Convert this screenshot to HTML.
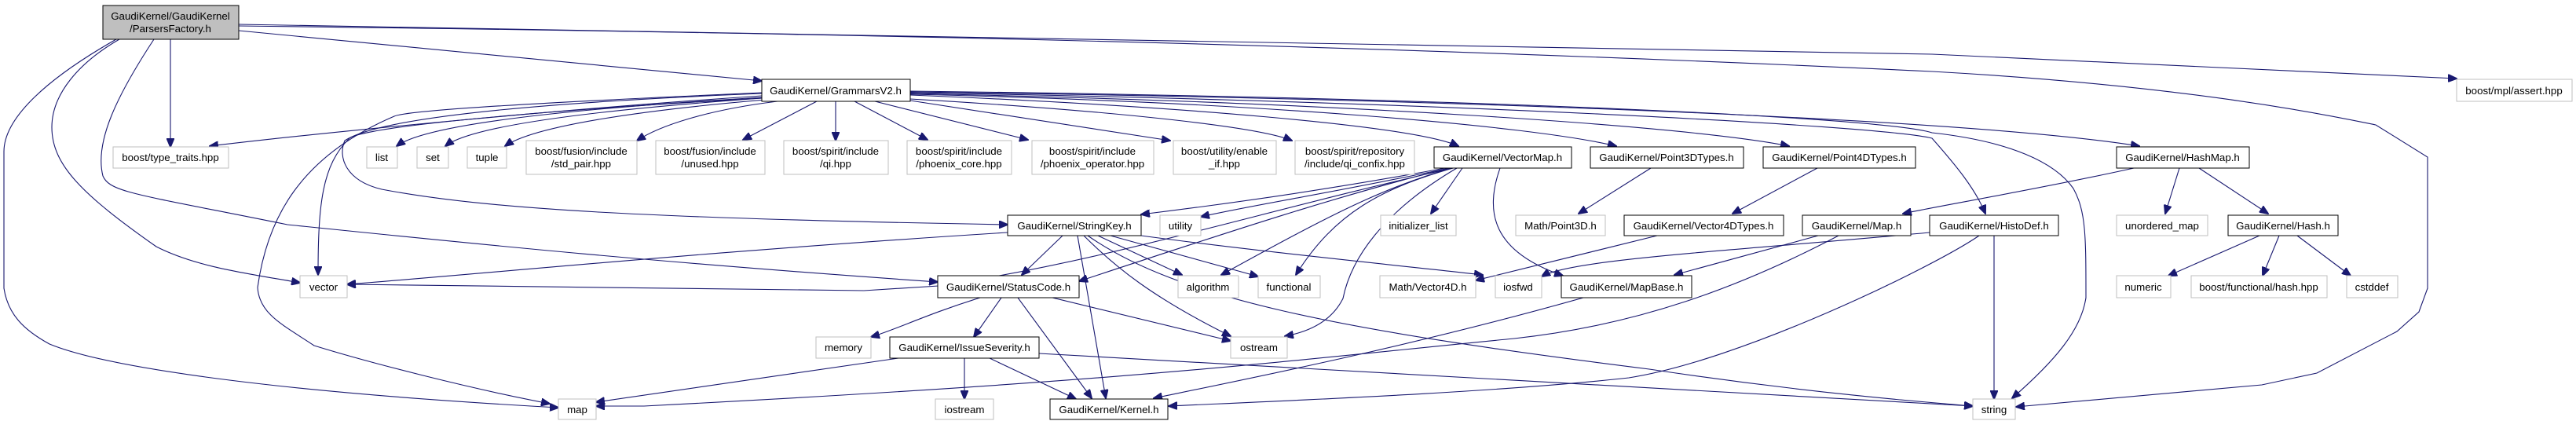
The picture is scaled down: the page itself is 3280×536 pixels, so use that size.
<!DOCTYPE html>
<html><head><meta charset="utf-8"><style>
html,body{margin:0;padding:0;background:#fff;}
svg{display:block;}
text{font-family:"Liberation Sans",Arial,sans-serif;font-size:13.3px;fill:#000;text-anchor:middle;}
.g{fill:#fff;stroke:#bfbfbf;stroke-width:1}
.b{fill:#fff;stroke:#000;stroke-width:1}
path{fill:none;stroke:#191970;stroke-width:1.1}
</style></head><body>
<svg width="3280" height="536" viewBox="0 0 3280 536" xmlns="http://www.w3.org/2000/svg">
<defs><marker id="a" markerWidth="12" markerHeight="10" refX="11" refY="5" orient="auto" markerUnits="userSpaceOnUse"><path d="M0,0 L12,5 L0,10 z" style="fill:#191970;stroke:#191970"/></marker></defs>
<g marker-end="url(#a)">
<!-- Parsers -->
<path d="M217,50 L217,187"/>
<path d="M304,39 L970,103"/>
<path d="M304,31 C900,38 1640,48 2460,69 L3128,100"/>
<path d="M304,33 C900,40 1640,52 2460,91 C2800,110 2980,150 3025,159 L3091,200 L3091,367 L3080,397 L3052,422 L2950,475 L2880,490 L2567,518"/>
<path d="M152,50 C100,80 66,120 66,162 C66,210 105,248 199,314 C250,340 314,348 382,360"/>
<path d="M148,50 C60,100 5,150 5,193 L5,367 C10,400 30,420 63,438 C126,464 314,497 711,519"/>
<path d="M196,50 C150,120 120,180 131,224 C140,245 173,247 366,286 C600,310 820,333 1194,359"/>
<!-- GrammarsV2 -->
<path d="M970,119 C700,130 486,148 439,179 C430,200 440,230 486,241 C617,266 820,278 1283,286"/>
<path d="M970,122 C700,140 400,170 267,186"/>
<path d="M970,125 C700,140 470,160 445,176 C410,210 405,260 405,350"/>
<path d="M970,118 C700,130 520,140 502,148 C380,200 340,280 328,366 C330,400 361,414 400,440 C471,462 600,495 700,514"/>
<path d="M970,124 C700,140 540,160 505,186"/>
<path d="M970,125 C760,140 600,160 567,186"/>
<path d="M975,127 C820,140 680,160 643,186"/>
<path d="M990,129 C900,140 840,160 811,179"/>
<path d="M1040,129 L946,178"/>
<path d="M1064,129 L1064,179"/>
<path d="M1088,129 L1181,178"/>
<path d="M1114,129 L1309,178"/>
<path d="M1159,128 L1490,179"/>
<path d="M1159,126 C1400,140 1600,160 1645,179"/>
<path d="M1159,121 C1500,135 1800,160 1857,186"/>
<path d="M1159,120 C1600,130 1950,160 2058,186"/>
<path d="M1159,119 C1700,130 2150,160 2278,186"/>
<path d="M1159,117 C1800,125 2500,150 2724,186"/>
<path d="M1159,118 C1800,128 2400,160 2460,176 C2490,210 2515,240 2528,272"/>
<path d="M1159,116 C1900,125 2400,150 2460,169 C2560,180 2617,207 2640,240 C2656,269 2656,300 2656,379 C2650,420 2617,459 2562,507"/>
<!-- VectorMap -->
<path d="M1862,214 L1822,272"/>
<path d="M1840,214 C1700,240 1560,260 1453,273"/>
<path d="M1845,214 C1700,245 1600,260 1529,276"/>
<path d="M1850,214 C1600,270 1420,330 1195,364 L1100,370 L442,362"/>
<path d="M1845,214 C1700,250 1550,300 1374,358"/>
<path d="M1848,214 C1760,240 1700,270 1555,350"/>
<path d="M1850,214 C1760,240 1700,270 1650,350"/>
<path d="M1855,214 C1760,270 1720,330 1710,380 C1700,400 1680,420 1636,428"/>
<path d="M1910,214 C1890,270 1900,320 1990,351"/>
<!-- StringKey -->
<path d="M1353,300 L1301,350"/>
<path d="M1372,300 L1408,507"/>
<path d="M1398,300 L1505,350"/>
<path d="M1414,300 L1602,352"/>
<path d="M1380,300 C1420,340 1468,379 1567,428"/>
<path d="M1453,300 C1600,320 1800,340 1888,350"/>
<path d="M1283,296 C900,320 600,350 442,362"/>
<path d="M1385,300 C1500,380 1700,420 2100,470 C2300,500 2450,512 2512,517"/>
<!-- StatusCode -->
<path d="M1248,379 C1180,400 1140,420 1109,429"/>
<path d="M1275,379 L1240,429"/>
<path d="M1296,379 L1390,507"/>
<path d="M1340,379 L1567,434"/>
<!-- IssueSeverity -->
<path d="M1228,456 L1228,508"/>
<path d="M1260,456 L1370,508"/>
<path d="M1144,456 L759,512"/>
<path d="M1323,450 C1600,465 2200,500 2512,517"/>
<!-- MapBase -->
<path d="M2016,379 C1800,440 1600,480 1469,507"/>
<!-- Map.h -->
<path d="M2341,300 C2215,366 2085,414 1928,431 C1640,459 1460,484 820,517 L759,517"/>
<path d="M2315,300 L2132,350"/>
<!-- HistoDef -->
<path d="M2457,296 C2200,320 2000,330 1963,352"/>
<path d="M2520,300 C2460,341 2216,459 2074,481 C1900,500 1640,510 1488,517"/>
<path d="M2539,300 L2539,508"/>
<!-- Points -->
<path d="M2102,214 L2010,272"/>
<path d="M2314,214 L2206,272"/>
<path d="M2110,300 L1879,357"/>
<!-- HashMap -->
<path d="M2717,214 C2600,240 2480,260 2423,272"/>
<path d="M2775,214 L2757,272"/>
<path d="M2800,214 L2888,272"/>
<path d="M2877,300 L2761,351"/>
<path d="M2902,300 L2881,351"/>
<path d="M2925,300 L2993,351"/>
</g>
<!-- Nodes -->
<rect x="131" y="7" width="173" height="43" style="fill:#bfbfbf;stroke:#000"/>
<text x="217" y="25">GaudiKernel/GaudiKernel</text><text x="217" y="41">/ParsersFactory.h</text>
<rect class="b" x="970" y="101" width="189" height="28"/><text x="1064" y="120">GaudiKernel/GrammarsV2.h</text>
<rect class="g" x="3128" y="101" width="147" height="28"/><text x="3201" y="120">boost/mpl/assert.hpp</text>
<rect class="g" x="144" y="187" width="147" height="27"/><text x="217" y="205">boost/type_traits.hpp</text>
<rect class="g" x="467" y="187" width="39" height="27"/><text x="486" y="205">list</text>
<rect class="g" x="531" y="187" width="40" height="27"/><text x="551" y="205">set</text>
<rect class="g" x="595" y="187" width="50" height="27"/><text x="620" y="205">tuple</text>
<rect class="g" x="670" y="179" width="141" height="43"/><text x="740" y="197">boost/fusion/include</text><text x="740" y="213">/std_pair.hpp</text>
<rect class="g" x="835" y="179" width="139" height="43"/><text x="904" y="197">boost/fusion/include</text><text x="904" y="213">/unused.hpp</text>
<rect class="g" x="998" y="179" width="133" height="43"/><text x="1064" y="197">boost/spirit/include</text><text x="1064" y="213">/qi.hpp</text>
<rect class="g" x="1155" y="179" width="133" height="43"/><text x="1221" y="197">boost/spirit/include</text><text x="1221" y="213">/phoenix_core.hpp</text>
<rect class="g" x="1314" y="179" width="155" height="43"/><text x="1391" y="197">boost/spirit/include</text><text x="1391" y="213">/phoenix_operator.hpp</text>
<rect class="g" x="1494" y="179" width="131" height="43"/><text x="1559" y="197">boost/utility/enable</text><text x="1559" y="213">_if.hpp</text>
<rect class="g" x="1649" y="179" width="152" height="43"/><text x="1725" y="197">boost/spirit/repository</text><text x="1725" y="213">/include/qi_confix.hpp</text>
<rect class="b" x="1826" y="187" width="175" height="27"/><text x="1913" y="205">GaudiKernel/VectorMap.h</text>
<rect class="b" x="2025" y="187" width="195" height="27"/><text x="2122" y="205">GaudiKernel/Point3DTypes.h</text>
<rect class="b" x="2245" y="187" width="194" height="27"/><text x="2342" y="205">GaudiKernel/Point4DTypes.h</text>
<rect class="b" x="2695" y="187" width="169" height="27"/><text x="2779" y="205">GaudiKernel/HashMap.h</text>
<rect class="b" x="1283" y="274" width="170" height="26"/><text x="1368" y="292">GaudiKernel/StringKey.h</text>
<rect class="g" x="1477" y="274" width="52" height="26"/><text x="1503" y="292">utility</text>
<rect class="g" x="1758" y="274" width="96" height="26"/><text x="1806" y="292">initializer_list</text>
<rect class="g" x="1930" y="274" width="114" height="26"/><text x="1987" y="292">Math/Point3D.h</text>
<rect class="b" x="2068" y="274" width="203" height="26"/><text x="2169" y="292">GaudiKernel/Vector4DTypes.h</text>
<rect class="b" x="2295" y="274" width="138" height="26"/><text x="2364" y="292">GaudiKernel/Map.h</text>
<rect class="b" x="2457" y="274" width="164" height="26"/><text x="2539" y="292">GaudiKernel/HistoDef.h</text>
<rect class="g" x="2695" y="274" width="116" height="26"/><text x="2753" y="292">unordered_map</text>
<rect class="b" x="2837" y="274" width="140" height="26"/><text x="2907" y="292">GaudiKernel/Hash.h</text>
<rect class="g" x="382" y="351" width="60" height="28"/><text x="412" y="370">vector</text>
<rect class="b" x="1194" y="351" width="180" height="28"/><text x="1284" y="370">GaudiKernel/StatusCode.h</text>
<rect class="g" x="1500" y="351" width="77" height="28"/><text x="1538" y="370">algorithm</text>
<rect class="g" x="1602" y="351" width="79" height="28"/><text x="1641" y="370">functional</text>
<rect class="g" x="1757" y="351" width="122" height="28"/><text x="1818" y="370">Math/Vector4D.h</text>
<rect class="g" x="1904" y="351" width="59" height="28"/><text x="1933" y="370">iosfwd</text>
<rect class="b" x="1988" y="351" width="166" height="28"/><text x="2071" y="370">GaudiKernel/MapBase.h</text>
<rect class="g" x="2695" y="351" width="69" height="28"/><text x="2729" y="370">numeric</text>
<rect class="g" x="2790" y="351" width="173" height="28"/><text x="2876" y="370">boost/functional/hash.hpp</text>
<rect class="g" x="2988" y="351" width="65" height="28"/><text x="3020" y="370">cstddef</text>
<rect class="g" x="1039" y="429" width="70" height="27"/><text x="1074" y="447">memory</text>
<rect class="b" x="1133" y="429" width="190" height="27"/><text x="1228" y="447">GaudiKernel/IssueSeverity.h</text>
<rect class="g" x="1567" y="429" width="72" height="27"/><text x="1603" y="447">ostream</text>
<rect class="g" x="711" y="508" width="48" height="26"/><text x="735" y="526">map</text>
<rect class="g" x="1191" y="508" width="74" height="26"/><text x="1228" y="526">iostream</text>
<rect class="b" x="1337" y="508" width="150" height="26"/><text x="1412" y="526">GaudiKernel/Kernel.h</text>
<rect class="g" x="2512" y="508" width="54" height="26"/><text x="2539" y="526">string</text>
</svg>
</body></html>
